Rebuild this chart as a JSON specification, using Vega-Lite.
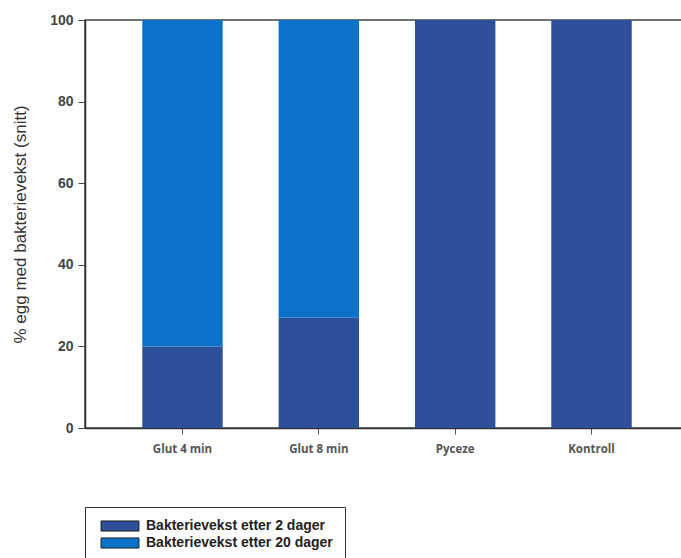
{
  "$schema": "https://vega.github.io/schema/vega-lite/v6.json",
  "autosize": "none",
  "width": 604,
  "height": 408,
  "padding": {"left": 85, "top": 20, "right": 0, "bottom": 130},
  "background": "white",
  "view": {"stroke": "#444", "strokeWidth": 1.5},
  "data": {
    "values": [
      {"gruppe": "Glut 4 min", "serie": "Bakterievekst etter 2 dager", "verdi": 20},
      {"gruppe": "Glut 4 min", "serie": "Bakterievekst etter 20 dager", "verdi": 80},
      {"gruppe": "Glut 8 min", "serie": "Bakterievekst etter 2 dager", "verdi": 27},
      {"gruppe": "Glut 8 min", "serie": "Bakterievekst etter 20 dager", "verdi": 73},
      {"gruppe": "Pyceze", "serie": "Bakterievekst etter 2 dager", "verdi": 100},
      {"gruppe": "Pyceze", "serie": "Bakterievekst etter 20 dager", "verdi": 0},
      {"gruppe": "Kontroll", "serie": "Bakterievekst etter 2 dager", "verdi": 100},
      {"gruppe": "Kontroll", "serie": "Bakterievekst etter 20 dager", "verdi": 0}
    ]
  },
  "mark": {"type": "bar"},
  "encoding": {
    "x": {
      "field": "gruppe",
      "type": "nominal",
      "sort": null,
      "scale": {"paddingInner": 0.41, "paddingOuter": 0.42},
      "axis": {
        "title": null,
        "labelAngle": 0,
        "labelFont": "Open Sans",
        "labelFontWeight": "bold",
        "labelFontSize": 11.5,
        "labelColor": "#555",
        "labelPadding": 9,
        "tickColor": "#555",
        "tickSize": 6,
        "domainColor": "#333",
        "domainWidth": 1.5
      }
    },
    "y": {
      "field": "verdi",
      "type": "quantitative",
      "stack": "zero",
      "scale": {"domain": [0, 100]},
      "axis": {
        "title": "% egg med bakterievekst (snitt)",
        "titleFont": "Liberation Sans",
        "titleFontSize": 17,
        "titleFontWeight": "normal",
        "titleColor": "#333",
        "titlePadding": 20,
        "values": [0, 20, 40, 60, 80, 100],
        "grid": false,
        "labelFont": "Liberation Sans",
        "labelFontWeight": "bold",
        "labelFontSize": 14,
        "labelColor": "#444",
        "labelPadding": 5,
        "tickColor": "#444",
        "tickSize": 7,
        "domainColor": "#333",
        "domainWidth": 1.5
      }
    },
    "color": {
      "field": "serie",
      "type": "nominal",
      "scale": {
        "domain": ["Bakterievekst etter 2 dager", "Bakterievekst etter 20 dager"],
        "range": ["#2e4f99", "#0b72c9"]
      },
      "legend": {
        "title": null,
        "orient": "none",
        "legendX": 0,
        "legendY": 487,
        "direction": "vertical",
        "symbolType": "M-3,-0.8H3V0.8H-3Z",
        "symbolSize": 160,
        "symbolOffset": 16,
        "symbolStrokeColor": "#222",
        "symbolStrokeWidth": 1,
        "labelFont": "Liberation Sans",
        "labelFontWeight": "bold",
        "labelFontSize": 14,
        "labelColor": "#222",
        "labelOffset": 19,
        "labelLimit": 400,
        "rowPadding": 1,
        "strokeColor": "#333",
        "padding": 12,
        "fillColor": "white"
      }
    },
    "order": {"field": "serie", "sort": "ascending"}
  },
  "config": {
    "axis": {"labelFlush": false}
  }
}
